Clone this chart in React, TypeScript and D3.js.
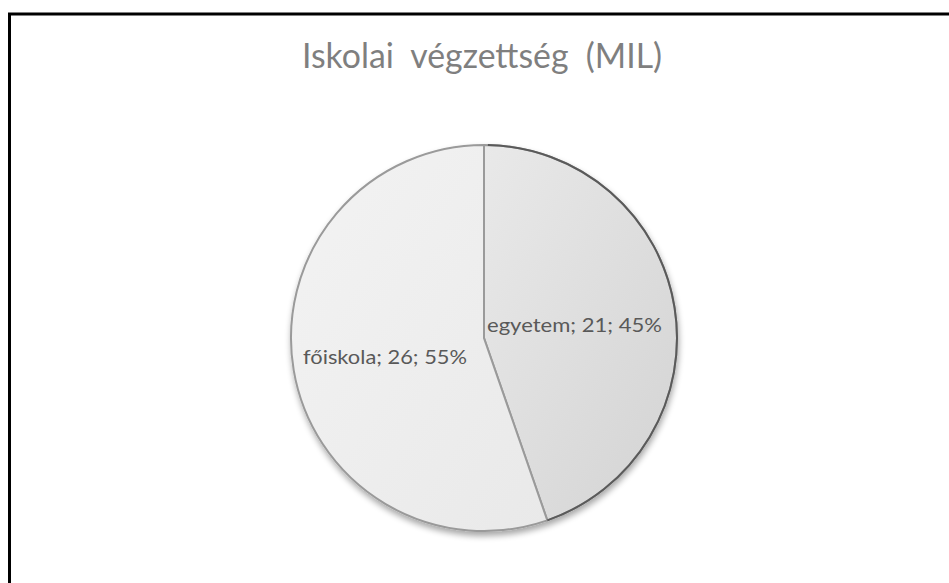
import React from "react";
import * as d3 from "d3";

const categories = ["egyetem", "főiskola"];
const values = [21, 26];
const percents = ["45%", "55%"];
const title = "Iskolai  végzettség  (MIL)";

const W = 949;
const H = 583;

export default function App() {
  const cx = 484;
  const cy = 338;
  const r = 193;
  const pie = d3.pie<number>().sort(null).startAngle(0).endAngle(2 * Math.PI);
  const arcs = pie(values);
  const arcGen = d3.arc<d3.PieArcDatum<number>>().innerRadius(0).outerRadius(r);
  const fills = ["url(#gEgy)", "url(#gFo)"];
  const labelPos = [
    { x: 487, y: 332, w: 175 },
    { x: 303, y: 364, w: 164 },
  ];
  return (
    <svg
      width={W}
      height={H}
      style={{ position: "absolute", left: 0, top: 0, background: "#fff" }}
    >
      <defs>
        <linearGradient id="gEgy" x1="0" y1="0" x2="1" y2="1">
          <stop offset="0" stopColor="#e9e9e9" />
          <stop offset="1" stopColor="#d3d3d3" />
        </linearGradient>
        <linearGradient id="gFo" x1="0" y1="0" x2="1" y2="1">
          <stop offset="0" stopColor="#f3f3f3" />
          <stop offset="1" stopColor="#e9e9e9" />
        </linearGradient>
        <filter id="sh" x="-20%" y="-20%" width="140%" height="140%">
          <feGaussianBlur in="SourceAlpha" stdDeviation="3" />
          <feOffset dx="1" dy="4" result="b" />
          <feComponentTransfer>
            <feFuncA type="linear" slope="0.35" />
          </feComponentTransfer>
          <feMerge>
            <feMergeNode />
            <feMergeNode in="SourceGraphic" />
          </feMerge>
        </filter>
      </defs>
      <rect x={9.5} y={14} width={1000} height={1000} fill="none" stroke="#000" strokeWidth={3} />
      <text
        x={482}
        y={68}
        textAnchor="middle"
        fontFamily="Lato, 'Open Sans', sans-serif"
        fontSize={35}
        fill="#7f7f7f"
        textLength={360}
        lengthAdjust="spacingAndGlyphs"
        style={{ whiteSpace: "pre" }}
      >
        {title}
      </text>
      <g transform={`translate(${cx},${cy})`}>
        <g filter="url(#sh)">
          {arcs.map((a, i) => (
            <path key={i} d={arcGen(a) || ""} fill={fills[i]} stroke="#9a9a9a" strokeWidth={2} />
          ))}
        </g>
        <path
          d={d3.arc()({ innerRadius: r, outerRadius: r, startAngle: 0.02, endAngle: arcs[0].endAngle }) || ""}
          fill="none"
          stroke="#5a5a5a"
          strokeWidth={2}
        />
      </g>
      {arcs.map((a, i) => (
        <text
          key={i}
          x={labelPos[i].x}
          y={labelPos[i].y}
          fontFamily="Lato, 'Open Sans', sans-serif"
          fontSize={20}
          fill="#595959"
          textLength={labelPos[i].w}
          lengthAdjust="spacingAndGlyphs"
        >
          {`${categories[i]}; ${values[i]}; ${percents[i]}`}
        </text>
      ))}
    </svg>
  );
}
